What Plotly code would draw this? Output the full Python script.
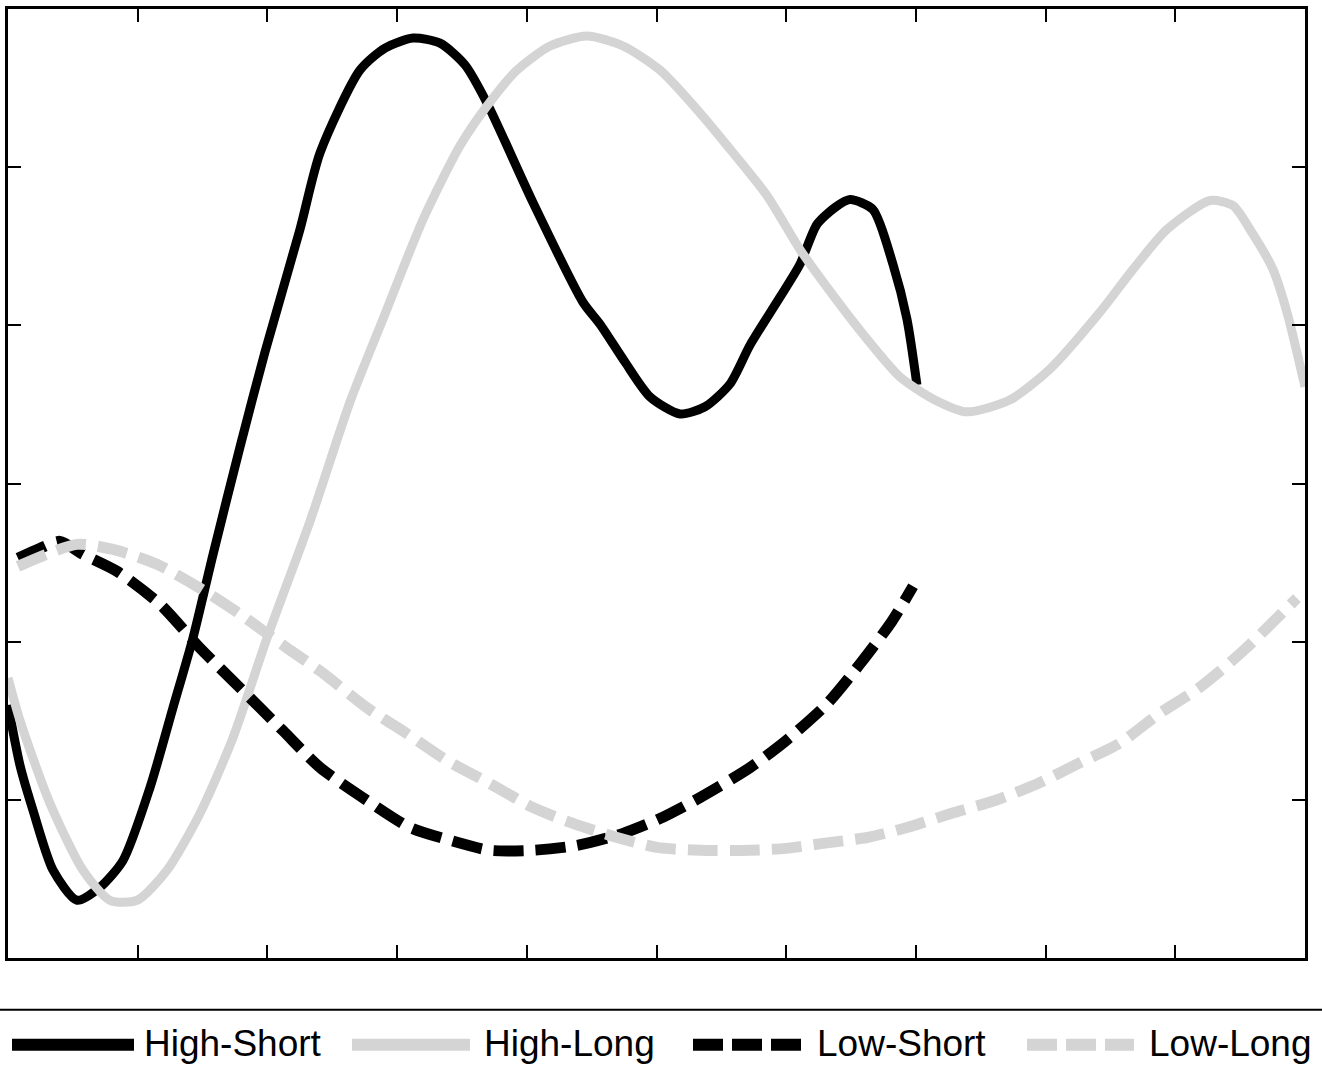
import plotly.graph_objects as go

# ---- data (x: 0..10, y: 0..6) ----
hs_x = [0.0, 0.093, 0.193, 0.347, 0.532, 0.709, 0.887, 1.095, 1.272, 1.426, 1.581, 1.789, 1.981,
        2.251, 2.406, 2.714, 2.907, 3.123, 3.331, 3.524, 3.693, 4.048, 4.433, 4.564, 4.757, 4.950,
        5.181, 5.374, 5.567, 5.721, 5.952, 6.106, 6.237, 6.376, 6.492, 6.669, 6.823, 6.931, 7.008]
hs_y = [1.60, 1.216, 0.933, 0.555, 0.365, 0.447, 0.617, 1.078, 1.582, 2.023, 2.552, 3.232, 3.831,
        4.606, 5.091, 5.614, 5.753, 5.816, 5.784, 5.646, 5.406, 4.776, 4.146, 4.008, 3.768, 3.548,
        3.440, 3.485, 3.630, 3.875, 4.178, 4.386, 4.638, 4.745, 4.795, 4.732, 4.386, 4.039, 3.623]

hl_x = [0.0, 0.093, 0.324, 0.578, 0.786, 0.995, 1.226, 1.480, 1.735, 1.997, 2.328, 2.637, 2.891,
        3.200, 3.485, 3.693, 3.925, 4.179, 4.464, 4.742, 5.027, 5.335, 5.590, 5.852, 6.106, 6.361,
        6.623, 6.877, 7.132, 7.394, 7.726, 8.034, 8.419, 8.674, 8.936, 9.268, 9.445, 9.576, 9.753,
        9.861, 10.0]
hl_y = [1.771, 1.500, 0.977, 0.555, 0.365, 0.365, 0.555, 0.914, 1.393, 2.023, 2.760, 3.516, 4.039,
        4.669, 5.135, 5.387, 5.614, 5.766, 5.829, 5.766, 5.614, 5.343, 5.091, 4.820, 4.480, 4.190,
        3.913, 3.674, 3.535, 3.453, 3.529, 3.724, 4.083, 4.354, 4.606, 4.789, 4.757, 4.606, 4.354,
        4.083, 3.611]

ls_x = [0.077, 0.247, 0.401, 0.578, 0.840, 1.172, 1.480, 1.789, 2.120, 2.406, 2.768, 3.099, 3.408,
        3.716, 4.048, 4.387, 4.742, 5.027, 5.335, 5.721, 5.998, 6.315, 6.569, 6.816, 6.978]
ls_y = [2.527, 2.590, 2.634, 2.552, 2.445, 2.237, 1.960, 1.708, 1.437, 1.204, 0.996, 0.825, 0.744,
        0.681, 0.681, 0.712, 0.788, 0.882, 1.014, 1.204, 1.374, 1.607, 1.859, 2.130, 2.350]

ll_x = [0.077, 0.532, 0.810, 1.149, 1.480, 1.789, 2.151, 2.406, 2.768, 3.076, 3.385, 3.716, 4.048,
        4.356, 4.696, 5.004, 5.335, 5.721, 5.998, 6.284, 6.623, 6.931, 7.271, 7.610, 7.941, 8.250,
        8.566, 8.874, 9.183, 9.522, 9.938]
ll_y = [2.476, 2.615, 2.583, 2.489, 2.338, 2.174, 1.960, 1.815, 1.582, 1.418, 1.248, 1.103, 0.951,
        0.851, 0.762, 0.699, 0.681, 0.681, 0.693, 0.725, 0.762, 0.825, 0.914, 0.996, 1.103, 1.229,
        1.355, 1.544, 1.708, 1.941, 2.275]

names = ["High-Short", "High-Long", "Low-Short", "Low-Long"]
x_ticks = [1, 2, 3, 4, 5, 6, 7, 8, 9]
y_ticks = [1, 2, 3, 4, 5]

BLACK = "#000000"
GRAY = "#d4d4d4"

series = [
    (hs_x, hs_y, names[0], BLACK, "solid", 9),
    (hl_x, hl_y, names[1], GRAY, "solid", 9),
    (ls_x, ls_y, names[2], BLACK, "30px,12px", 11),
    (ll_x, ll_y, names[3], GRAY, "30px,12px", 11),
]

fig = go.Figure()
for xs, ys, nm, col, dash, w in series:
    fig.add_trace(go.Scatter(x=xs, y=ys, name=nm, mode="lines",
                             line=dict(color=col, width=w, dash=dash, shape="spline", smoothing=0.7),
                             showlegend=False))

W, H = 1322, 1079
L, R, T, B = 8, 17, 6, 121
pw, ph = W - L - R, H - T - B

def px_x(p):
    return (p - L) / pw

def px_y(p):
    return (H - B - p) / ph

shapes = []
annotations = []
# separator line above legend
shapes.append(dict(type="line", xref="paper", yref="paper",
                   x0=px_x(0), x1=px_x(W), y0=px_y(1010), y1=px_y(1010),
                   line=dict(color="black", width=2)))
# legend entries (symbol start, symbol end, text start)
leg = [(12, 134, 142), (352, 470, 482), (693, 803, 815), (1027, 1134, 1147)]
leg_y = 1045
for (s0, s1, tx), (xs, ys, nm, col, dash, w) in zip(leg, series):
    shapes.append(dict(type="line", xref="paper", yref="paper",
                       x0=px_x(s0), x1=px_x(s1), y0=px_y(leg_y), y1=px_y(leg_y),
                       line=dict(color=col, width=12,
                                 dash="solid" if dash == "solid" else "30px,9px")))
    annotations.append(dict(xref="paper", yref="paper", x=px_x(tx), y=px_y(leg_y - 1),
                            text=nm, showarrow=False, xanchor="left", yanchor="middle",
                            font=dict(family="Liberation Sans, Arial, sans-serif", size=37, color="black")))

axis_common = dict(showline=True, linecolor="black", linewidth=3, mirror="ticks",
                   ticks="inside", ticklen=13, tickwidth=2, tickcolor="black",
                   showticklabels=False, showgrid=False, zeroline=False)

fig.update_layout(
    width=W, height=H,
    margin=dict(l=L, r=R, t=T, b=B, pad=0),
    paper_bgcolor="white", plot_bgcolor="white",
    xaxis=dict(range=[0, 10], tickvals=x_ticks, **axis_common),
    yaxis=dict(range=[0, 6], tickvals=y_ticks, **axis_common),
    shapes=shapes, annotations=annotations,
    showlegend=False,
)

fig.write_html("out.html", config={"displayModeBar": False},
               post_script="document.body.style.margin='0';")
